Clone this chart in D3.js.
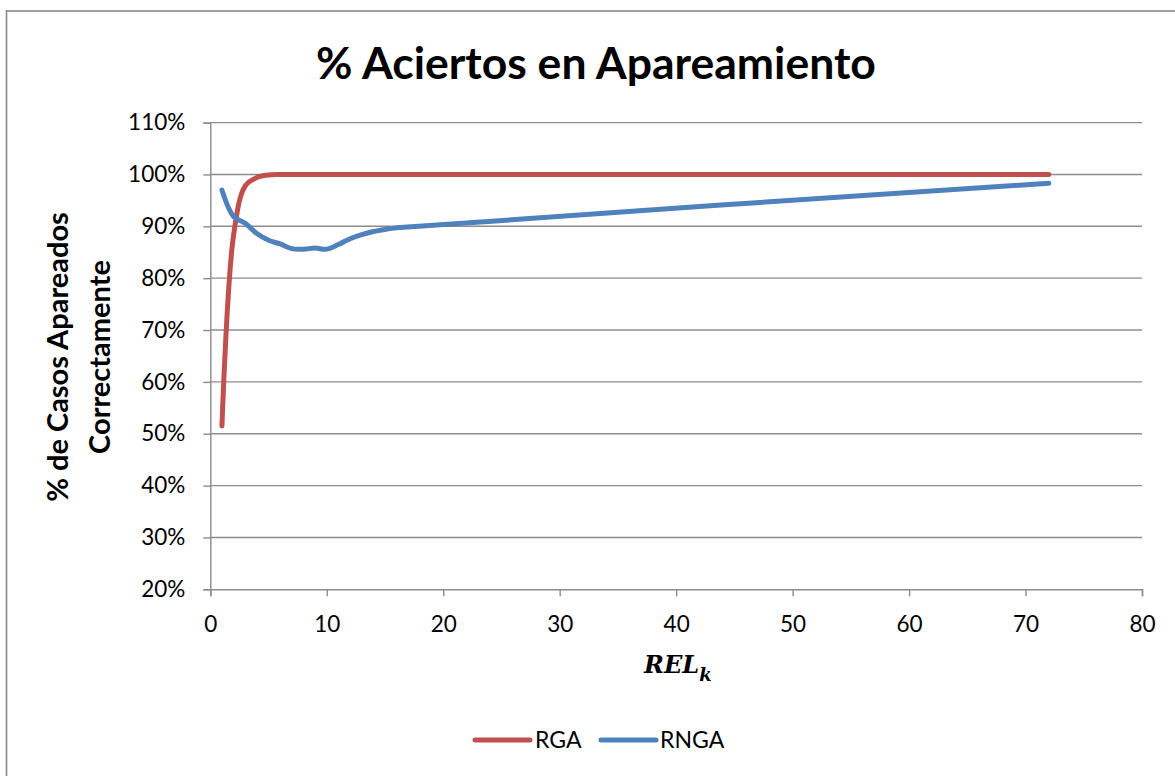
<!DOCTYPE html>
<html>
<head>
<meta charset="utf-8">
<script src="https://cdn.jsdelivr.net/npm/d3@7"></script>
<style>
  html, body { margin: 0; padding: 0; background: #fff; }
  svg { display: block; }
</style>
</head>
<body>
<svg id="chart" width="1175" height="776"></svg>
<script>
// REL_k values and % of correctly matched cases for each method
const relRGA  = [1, 2, 3, 4, 5, 6, 8, 10, 15, 20, 72];
const pctRGA  = [0.515, 0.883, 0.978, 0.994, 0.999, 1.0, 1.0, 1.0, 1.0, 1.0, 1.0];

const relRNGA = [1, 2, 3, 4, 5, 6, 7, 8, 9, 10, 11, 12, 13, 14, 15, 16, 72];
const pctRNGA = [0.970, 0.919, 0.906, 0.886, 0.873, 0.866, 0.857, 0.856, 0.858, 0.856,
                 0.865, 0.876, 0.884, 0.890, 0.894, 0.897, 0.983];

const xTicks = [0, 10, 20, 30, 40, 50, 60, 70, 80];
const yTicks = [0.2, 0.3, 0.4, 0.5, 0.6, 0.7, 0.8, 0.9, 1.0, 1.1];

const seriesNames = ["RGA", "RNGA"];
const seriesColors = ["#C0504D", "#4F81BD"];

const font = "Lato, 'Open Sans', sans-serif";
const svg = d3.select("#chart");

// chart frame
svg.append("rect")
  .attr("x", 6.5).attr("y", 11)
  .attr("width", 1200).attr("height", 800)
  .attr("fill", "none").attr("stroke", "#888").attr("stroke-width", 1.6);

const x = d3.scaleLinear().domain([0, 80]).range([210.3, 1142]);
const y = d3.scaleLinear().domain([0.2, 1.1]).range([589.3, 122.6]);

// horizontal gridlines
svg.append("g")
  .selectAll("line")
  .data(yTicks.filter(v => v > 0.2))
  .join("line")
  .attr("x1", x(0)).attr("x2", x(80))
  .attr("y1", d => y(d)).attr("y2", d => y(d))
  .attr("stroke", "#8c8c8c").attr("stroke-width", 1.4);

// y axis
const yAxis = svg.append("g")
  .attr("transform", `translate(${x(0)},0)`)
  .call(d3.axisLeft(y).tickValues(yTicks).tickFormat(d3.format(".0%")).tickSize(7).tickPadding(18));
yAxis.select(".domain").attr("stroke", "#8c8c8c").attr("stroke-width", 1.4);
yAxis.selectAll(".tick line").attr("stroke", "#8c8c8c").attr("stroke-width", 1.4);
yAxis.selectAll(".tick text")
  .attr("fill", "#000").style("font-family", font).style("font-size", "22.5px");

// x axis
const xAxis = svg.append("g")
  .attr("transform", `translate(0,${y(0.2)})`)
  .call(d3.axisBottom(x).tickValues(xTicks).tickFormat(d3.format("d")).tickSize(7).tickPadding(20));
xAxis.select(".domain").attr("stroke", "#8c8c8c").attr("stroke-width", 1.4);
xAxis.selectAll(".tick line").attr("stroke", "#8c8c8c").attr("stroke-width", 1.4);
xAxis.selectAll(".tick text")
  .attr("fill", "#000").style("font-family", font).style("font-size", "22.5px");

// series lines
const line = d3.line()
  .x(d => x(d[0]))
  .y(d => y(d[1]))
  .curve(d3.curveCatmullRom.alpha(0.5));

const series = [
  d3.zip(relRGA, pctRGA),
  d3.zip(relRNGA, pctRNGA)
];

svg.append("g")
  .selectAll("path")
  .data(series)
  .join("path")
  .attr("d", line)
  .attr("fill", "none")
  .attr("stroke", (d, i) => seriesColors[i])
  .attr("stroke-width", 5)
  .attr("stroke-linecap", "round")
  .attr("stroke-linejoin", "round");

// title
svg.append("text")
  .attr("x", 596).attr("y", 79)
  .attr("text-anchor", "middle")
  .style("font-family", font).style("font-weight", "bold").style("font-size", "44.5px")
  .text("% Aciertos en Apareamiento");

// y axis title (two lines)
const yTitle = svg.append("text")
  .attr("transform", "translate(79,357) rotate(-90)")
  .attr("text-anchor", "middle")
  .style("font-family", font).style("font-weight", "bold").style("font-size", "29px");
yTitle.append("tspan").attr("x", 0).attr("y", -11).text("% de Casos Apareados");
yTitle.append("tspan").attr("x", 0).attr("y", 31).text("Correctamente");

// x axis title: REL_k
const xTitle = svg.append("text")
  .attr("x", 644).attr("y", 673)
  .style("font-family", "'DejaVu Serif', 'Liberation Serif', serif")
  .style("font-style", "italic").style("font-weight", "bold").style("font-size", "24px");
xTitle.append("tspan").text("REL");
xTitle.append("tspan").attr("dy", 8).style("font-size", "18px").text("k");

// legend
const legend = svg.append("g");
const legendItems = [
  { x1: 475, x2: 530, tx: 535 },
  { x1: 601, x2: 656, tx: 660 }
];
legendItems.forEach((it, i) => {
  legend.append("line")
    .attr("x1", it.x1).attr("x2", it.x2)
    .attr("y1", 740).attr("y2", 740)
    .attr("stroke", seriesColors[i]).attr("stroke-width", 5)
    .attr("stroke-linecap", "round");
  legend.append("text")
    .attr("x", it.tx).attr("y", 748)
    .style("font-family", font).style("font-size", "23px")
    .text(seriesNames[i]);
});
</script>
</body>
</html>
